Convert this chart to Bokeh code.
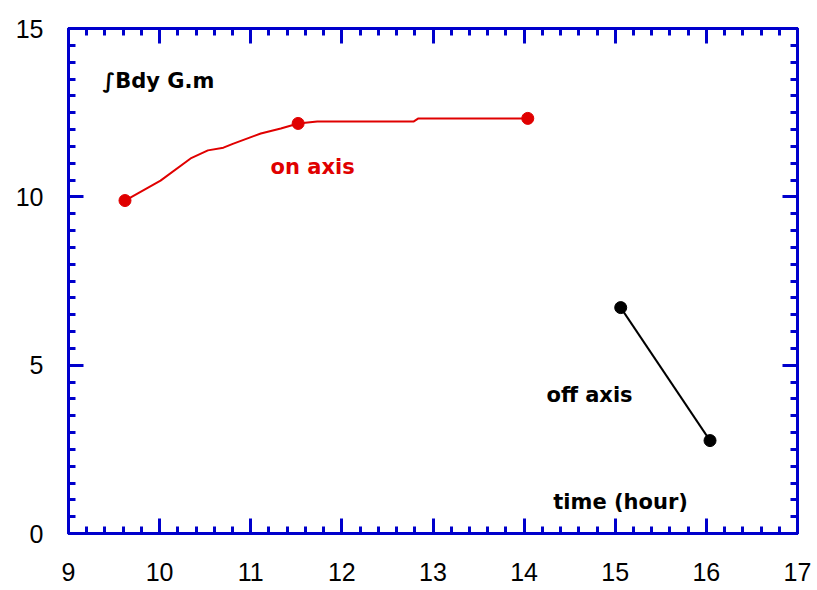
from bokeh.plotting import figure
from bokeh.models import LinearAxis, SingleIntervalTicker, Range1d, Label, CustomJSTickFormatter
from bokeh.embed import file_html
from bokeh.resources import INLINE

# data
on_axis_time = [9.62, 10.01, 10.34, 10.53, 10.70, 10.81, 11.11, 11.33, 11.52, 11.73, 12.79, 12.84, 14.04]
on_axis_bdy = [9.89, 10.48, 11.14, 11.38, 11.46, 11.58, 11.88, 12.03, 12.18, 12.24, 12.24, 12.33, 12.33]
on_axis_marker_time = [9.62, 11.52, 14.04]
on_axis_marker_bdy = [9.89, 12.18, 12.33]
off_axis_time = [15.06, 16.04]
off_axis_bdy = [6.71, 2.76]

BLUE = "#0000cc"
RED = "#e00000"

p = figure(width=817, height=590, output_backend="svg", toolbar_location=None,
           x_range=Range1d(9, 17), y_range=Range1d(0, 15),
           x_axis_location=None, y_axis_location=None,
           min_border_left=68, min_border_right=20, min_border_top=28, min_border_bottom=57)
p.grid.visible = False
p.outline_line_color = BLUE
p.outline_line_width = 3
p.background_fill_color = "white"
p.border_fill_color = "white"


def make_axis(kind, labels):
    if kind == "x":
        t = SingleIntervalTicker(interval=1, num_minor_ticks=5)
    else:
        t = SingleIntervalTicker(interval=5, num_minor_ticks=10)
    a = LinearAxis(ticker=t)
    a.axis_line_color = BLUE
    a.axis_line_width = 3
    a.major_tick_line_color = BLUE
    a.major_tick_line_width = 3
    a.minor_tick_line_color = BLUE
    a.minor_tick_line_width = 3
    a.major_tick_in = 15
    a.major_tick_out = 0
    a.minor_tick_in = 7
    a.minor_tick_out = 0
    if labels:
        a.major_label_text_font = "Liberation Sans"
        a.major_label_text_font_size = "25px"
        a.major_label_text_color = "black"
        a.major_label_standoff = 29 if kind == "x" else 25
    else:
        a.formatter = CustomJSTickFormatter(code="return ''")
        a.major_label_text_font_size = "1px"
        a.major_label_standoff = 0
    return a


p.add_layout(make_axis("x", True), "below")
p.add_layout(make_axis("y", True), "left")
p.add_layout(make_axis("x", False), "above")
p.add_layout(make_axis("y", False), "right")

p.line(on_axis_time, on_axis_bdy, line_color=RED, line_width=2)
p.scatter(on_axis_marker_time, on_axis_marker_bdy, size=12, fill_color=RED, line_color=RED)
p.line(off_axis_time, off_axis_bdy, line_color="black", line_width=2)
p.scatter(off_axis_time, off_axis_bdy, size=12, fill_color="black", line_color="black")

FONT = "DejaVu Sans"
for txt, x, y, col in [("\u222bBdy G.m", 9.373, 13.43, "black"),
                       ("on axis", 11.217, 10.90, RED),
                       ("off axis", 14.245, 4.10, "black"),
                       ("time (hour)", 14.32, 0.95, "black")]:
    p.add_layout(Label(x=x, y=y, text=txt, text_font=FONT, text_font_style="bold",
                       text_font_size="21px", text_color=col,
                       text_align="left", text_baseline="middle"))

open("out.html", "w").write(file_html(p, INLINE))
